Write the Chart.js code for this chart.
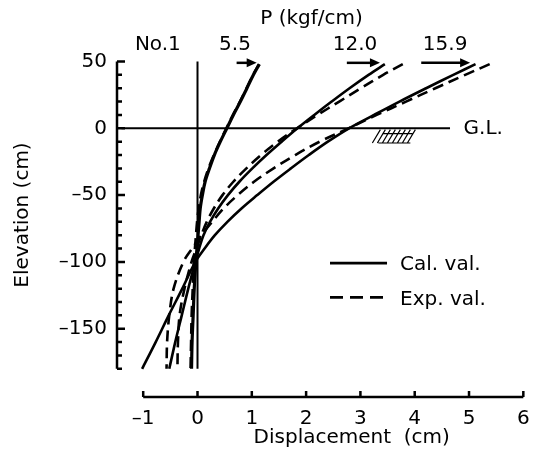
<!DOCTYPE html>
<html lang="en">
<head>
<meta charset="UTF-8">
<title>Pile No.1 - lateral displacement</title>
<script src="https://cdn.jsdelivr.net/npm/chart.js"></script>
<style>
  html, body { margin: 0; padding: 0; background: #fff; }
</style>
</head>
<body>
<canvas id="pileChart" width="542" height="464"></canvas>
<script>
// elevation of each reading along the pile (cm)
const elevations = [48, 40, 30, 20, 10, 0, -10, -20, -30, -40, -50, -60, -70, -80, -90, -100, -120, -140, -160, -180];

// displacement (cm) at each elevation, calculated / measured, per load P (kgf/cm)
const cal55  = [1.14, 1.03, 0.91, 0.79, 0.66, 0.54, 0.42, 0.31, 0.22, 0.14, 0.09, 0.05, 0.03, 0.01, -0.01, -0.03, -0.06, -0.08, -0.10, -0.11];
const exp55  = [1.13, 1.02, 0.90, 0.78, 0.65, 0.53, 0.41, 0.30, 0.20, 0.12, 0.06, 0.02, -0.01, -0.03, -0.05, -0.07, -0.09, -0.11, -0.12, -0.13];
const cal120 = [3.45, 3.15, 2.80, 2.47, 2.15, 1.84, 1.55, 1.27, 1.01, 0.77, 0.56, 0.38, 0.23, 0.11, 0.03, -0.04, -0.17, -0.29, -0.41, -0.52];
const exp120 = [3.78, 3.42, 3.01, 2.61, 2.21, 1.83, 1.48, 1.17, 0.90, 0.66, 0.46, 0.30, 0.17, 0.07, -0.02, -0.11, -0.24, -0.33, -0.36, -0.37];
const cal159 = [5.12, 4.71, 4.21, 3.72, 3.25, 2.79, 2.40, 2.05, 1.72, 1.40, 1.10, 0.81, 0.55, 0.32, 0.13, -0.04, -0.28, -0.53, -0.77, -1.02];
const exp159 = [5.38, 4.93, 4.38, 3.84, 3.30, 2.78, 2.25, 1.80, 1.40, 1.04, 0.74, 0.48, 0.27, 0.07, -0.10, -0.26, -0.44, -0.52, -0.56, -0.57];

const loads = ['5.5', '12.0', '15.9'];
const xTicks = [-1, 0, 1, 2, 3, 4, 5, 6];
const yTicks = [50, 0, -50, -100, -150];

const ink = '#000';
const font = { family: "'DejaVu Sans', sans-serif", size: 20 };
const cssFont = "20px 'DejaVu Sans', sans-serif";

const toPoints = xs => xs.map((v, i) => ({ x: v, y: elevations[i] }));

function curve(values, dashed, width) {
    return {
        data: toPoints(values),
        borderColor: ink,
        borderWidth: width,
        borderDash: dashed ? [11, 6] : [],
        pointRadius: 0,
        showLine: true,
        tension: 0.35
    };
}

// annotation placement (data units)
const loadLabelX = [0.69, 2.90, 4.56];
const arrowStart = [0.72, 2.75, 4.12];
const arrowEnd = [1.09, 3.36, 5.02];

// axes, arrows, labels, legend and ground hatch
const figureDecor = {
    id: 'figureDecor',
    afterDraw(chart) {
        const { ctx, chartArea, scales: { x, y } } = chart;
        ctx.save();
        ctx.strokeStyle = ink;
        ctx.fillStyle = ink;
        ctx.font = cssFont;

        // elevation axis with 10 cm ticks
        const ax = chartArea.left;
        ctx.lineWidth = 2.5;
        ctx.beginPath();
        ctx.moveTo(ax, y.getPixelForValue(50));
        ctx.lineTo(ax, y.getPixelForValue(-180));
        for (let v = 50; v >= -180; v -= 10) {
            const py = y.getPixelForValue(v);
            ctx.moveTo(ax, py);
            ctx.lineTo(ax + (v % 50 === 0 ? 8 : 5), py);
        }
        ctx.stroke();

        // displacement axis, ticks pointing up
        const ay = chartArea.bottom;
        ctx.beginPath();
        ctx.moveTo(x.getPixelForValue(-1), ay);
        ctx.lineTo(x.getPixelForValue(6), ay);
        xTicks.forEach(v => {
            const px = x.getPixelForValue(v);
            ctx.moveTo(px, ay);
            ctx.lineTo(px, ay - 6);
        });
        ctx.stroke();

        // load arrows at the pile head
        ctx.lineWidth = 2.5;
        const arrowY = y.getPixelForValue(49);
        arrowStart.forEach((s, i) => {
            const x0 = x.getPixelForValue(s);
            const x1 = x.getPixelForValue(arrowEnd[i]);
            ctx.beginPath();
            ctx.moveTo(x0, arrowY);
            ctx.lineTo(x1 - 8, arrowY);
            ctx.stroke();
            ctx.beginPath();
            ctx.moveTo(x1, arrowY);
            ctx.lineTo(x1 - 10, arrowY - 4.5);
            ctx.lineTo(x1 - 10, arrowY + 4.5);
            ctx.closePath();
            ctx.fill();
        });

        // text labels
        ctx.textAlign = 'center';
        ctx.textBaseline = 'middle';
        const labelY = y.getPixelForValue(62.5);
        loads.forEach((t, i) => ctx.fillText(t, x.getPixelForValue(loadLabelX[i]), labelY));
        ctx.fillText('No.1', x.getPixelForValue(-0.73), labelY);
        ctx.fillText('P (kgf/cm)', x.getPixelForValue(2.1), y.getPixelForValue(82));
        ctx.fillText('Displacement  (cm)', x.getPixelForValue(2.84), ay + 41);
        ctx.textAlign = 'left';
        ctx.fillText('G.L.', x.getPixelForValue(4.9), y.getPixelForValue(0));

        // legend
        const lx0 = x.getPixelForValue(2.44);
        const lx1 = x.getPixelForValue(3.49);
        const tx = x.getPixelForValue(3.73);
        [['Cal. val.', -100.9, []], ['Exp. val.', -126.5, [13, 7]]].forEach(([t, e, dash]) => {
            const py = y.getPixelForValue(e);
            ctx.lineWidth = 2.6;
            ctx.setLineDash(dash);
            ctx.beginPath();
            ctx.moveTo(lx0, py);
            ctx.lineTo(lx1, py);
            ctx.stroke();
            ctx.setLineDash([]);
            ctx.fillText(t, tx, py + 2);
        });

        // ground hatch under G.L.
        ctx.lineWidth = 1.2;
        const gy0 = y.getPixelForValue(-1);
        const gy1 = y.getPixelForValue(-11);
        const gx = x.getPixelForValue(3.22);
        ctx.beginPath();
        for (let i = 0; i < 8; i++) {
            ctx.moveTo(gx + i * 5, gy1);
            ctx.lineTo(gx + i * 5 + 8, gy0);
        }
        ctx.moveTo(gx + 6, gy1);
        ctx.lineTo(gx + 38, gy1);
        ctx.moveTo(gx + 10, gy0 + 4);
        ctx.lineTo(gx + 40, gy0 + 4);
        ctx.stroke();

        ctx.restore();
    }
};

new Chart(document.getElementById('pileChart'), {
    type: 'scatter',
    data: {
        datasets: [
            curve(cal55, false, 3.2),
            curve(exp55, true, 2.4),
            curve(cal120, false, 2.6),
            curve(exp120, true, 2.6),
            curve(cal159, false, 2.6),
            curve(exp159, true, 2.6),
            // pile axis and ground level
            { data: [{ x: 0, y: 50 }, { x: 0, y: -180 }], borderColor: ink, borderWidth: 2, pointRadius: 0, showLine: true },
            { data: [{ x: -1.40, y: 0 }, { x: 4.65, y: 0 }], borderColor: ink, borderWidth: 2, pointRadius: 0, showLine: true }
        ]
    },
    options: {
        responsive: false,
        animation: false,
        events: [],
        layout: { padding: { left: 0, right: 7, top: 33, bottom: 0 } },
        plugins: { legend: { display: false }, tooltip: { enabled: false } },
        scales: {
            x: {
                type: 'linear',
                min: -1.4825,
                max: 6.215,
                afterFit: s => { s.height = 67; },
                afterBuildTicks: s => { s.ticks = xTicks.map(v => ({ value: v })); },
                grid: { display: false, drawTicks: false },
                border: { display: false },
                ticks: {
                    font: font, color: ink, padding: 10, maxRotation: 0, autoSkip: false,
                    callback: v => String(v).replace('-', '\u2013')
                }
            },
            y: {
                type: 'linear',
                min: -201.1,
                max: 71.33,
                afterFit: s => { s.width = 117; },
                afterBuildTicks: s => { s.ticks = yTicks.map(v => ({ value: v })); },
                grid: { display: false, drawTicks: false },
                border: { display: false },
                ticks: {
                    font: font, color: ink, padding: 10, autoSkip: false,
                    callback: v => String(v).replace('-', '\u2013')
                },
                title: {
                    display: true,
                    text: 'Elevation (cm)',
                    font: font,
                    color: ink,
                    padding: { top: 11, bottom: 0 }
                }
            }
        }
    },
    plugins: [figureDecor]
});
</script>
</body>
</html>
